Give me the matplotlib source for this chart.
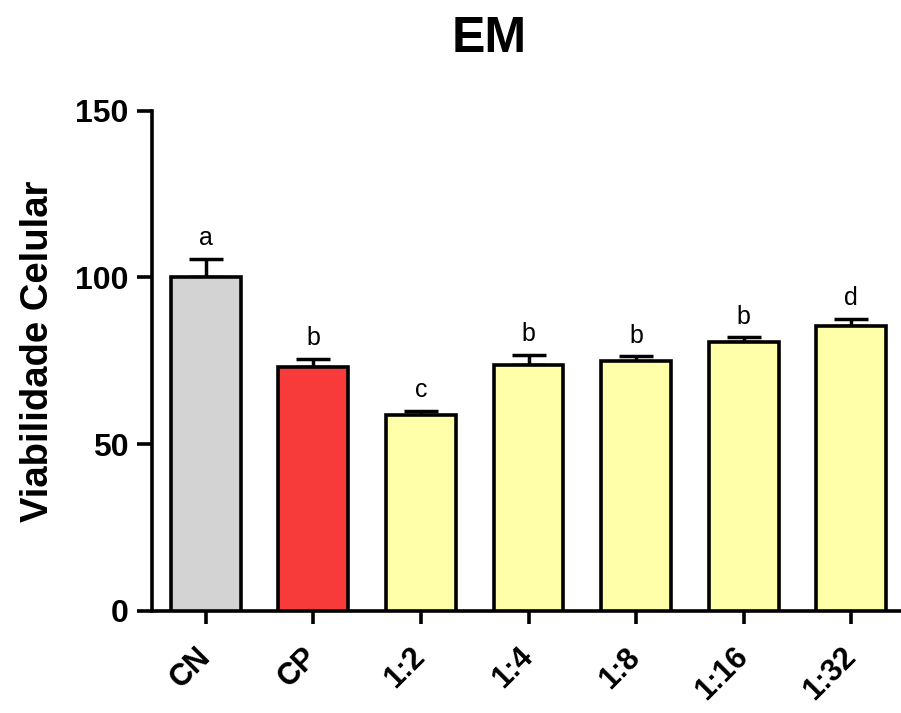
import numpy
import matplotlib
matplotlib.use('Agg')
import matplotlib.pyplot as plt

plt.rcParams['font.family'] = ['Liberation Sans', 'DejaVu Sans']

# Data ----------------------------------------------------------------------
groups = ['CN', 'CP', '1:2', '1:4', '1:8', '1:16', '1:32']
viability = [100.0, 73.0, 58.6, 73.8, 74.8, 80.5, 85.5]
sem = [5.4, 2.6, 1.4, 3.0, 1.5, 1.5, 2.0]
letters = ['a', 'b', 'c', 'b', 'b', 'b', 'd']
yticks = [0, 50, 100, 150]

colors = ['#D3D3D3', '#F73B3B'] + ['#FFFFAA'] * 5

# Plot ----------------------------------------------------------------------
fig = plt.figure(figsize=(9.01, 7.13), dpi=100)
ax = fig.add_axes([152 / 901, 1 - 611 / 713, 753 / 901, 500.5 / 713])

x_pos = numpy.arange(len(groups))
ax.bar(x_pos, viability, width=0.65, color=colors, edgecolor='black',
       linewidth=2.6, zorder=3)
ax.errorbar(x_pos, viability, yerr=[[0] * len(sem), sem], fmt='none',
            ecolor='black', elinewidth=2.5, capsize=12.5, capthick=2.5,
            zorder=2)

for i in range(len(groups)):
    ax.annotate(letters[i], (x_pos[i], viability[i] + sem[i]),
                xytext=(0, 10), textcoords='offset points',
                ha='center', va='baseline', fontsize=18)

ax.set_xlim(-0.5, 6.5)
ax.set_ylim(0, 150)
ax.set_yticks(yticks)
ax.set_xticks(x_pos)
ax.set_xticklabels(groups, rotation=45, ha='right', va='center',
                   rotation_mode='anchor', fontsize=22, fontweight='bold')
ax.set_yticklabels([str(v) for v in yticks], fontsize=23, fontweight='bold')

ax.tick_params(axis='y', length=11, width=2.6, pad=6)
ax.tick_params(axis='x', length=9, width=2.6, pad=21)

for side in ['top', 'right']:
    ax.spines[side].set_visible(False)
for side in ['left', 'bottom']:
    ax.spines[side].set_linewidth(2.6)

ax.set_ylabel('Viabilidade Celular', fontsize=27.5, fontweight='bold', va='center')
ax.yaxis.set_label_coords(-0.151, 0.519)

fig.text(489.5 / 901, 1 - 52 / 713, 'EM', fontsize=36, fontweight='bold',
         ha='center', va='baseline')

plt.savefig('out.png', dpi=100)
